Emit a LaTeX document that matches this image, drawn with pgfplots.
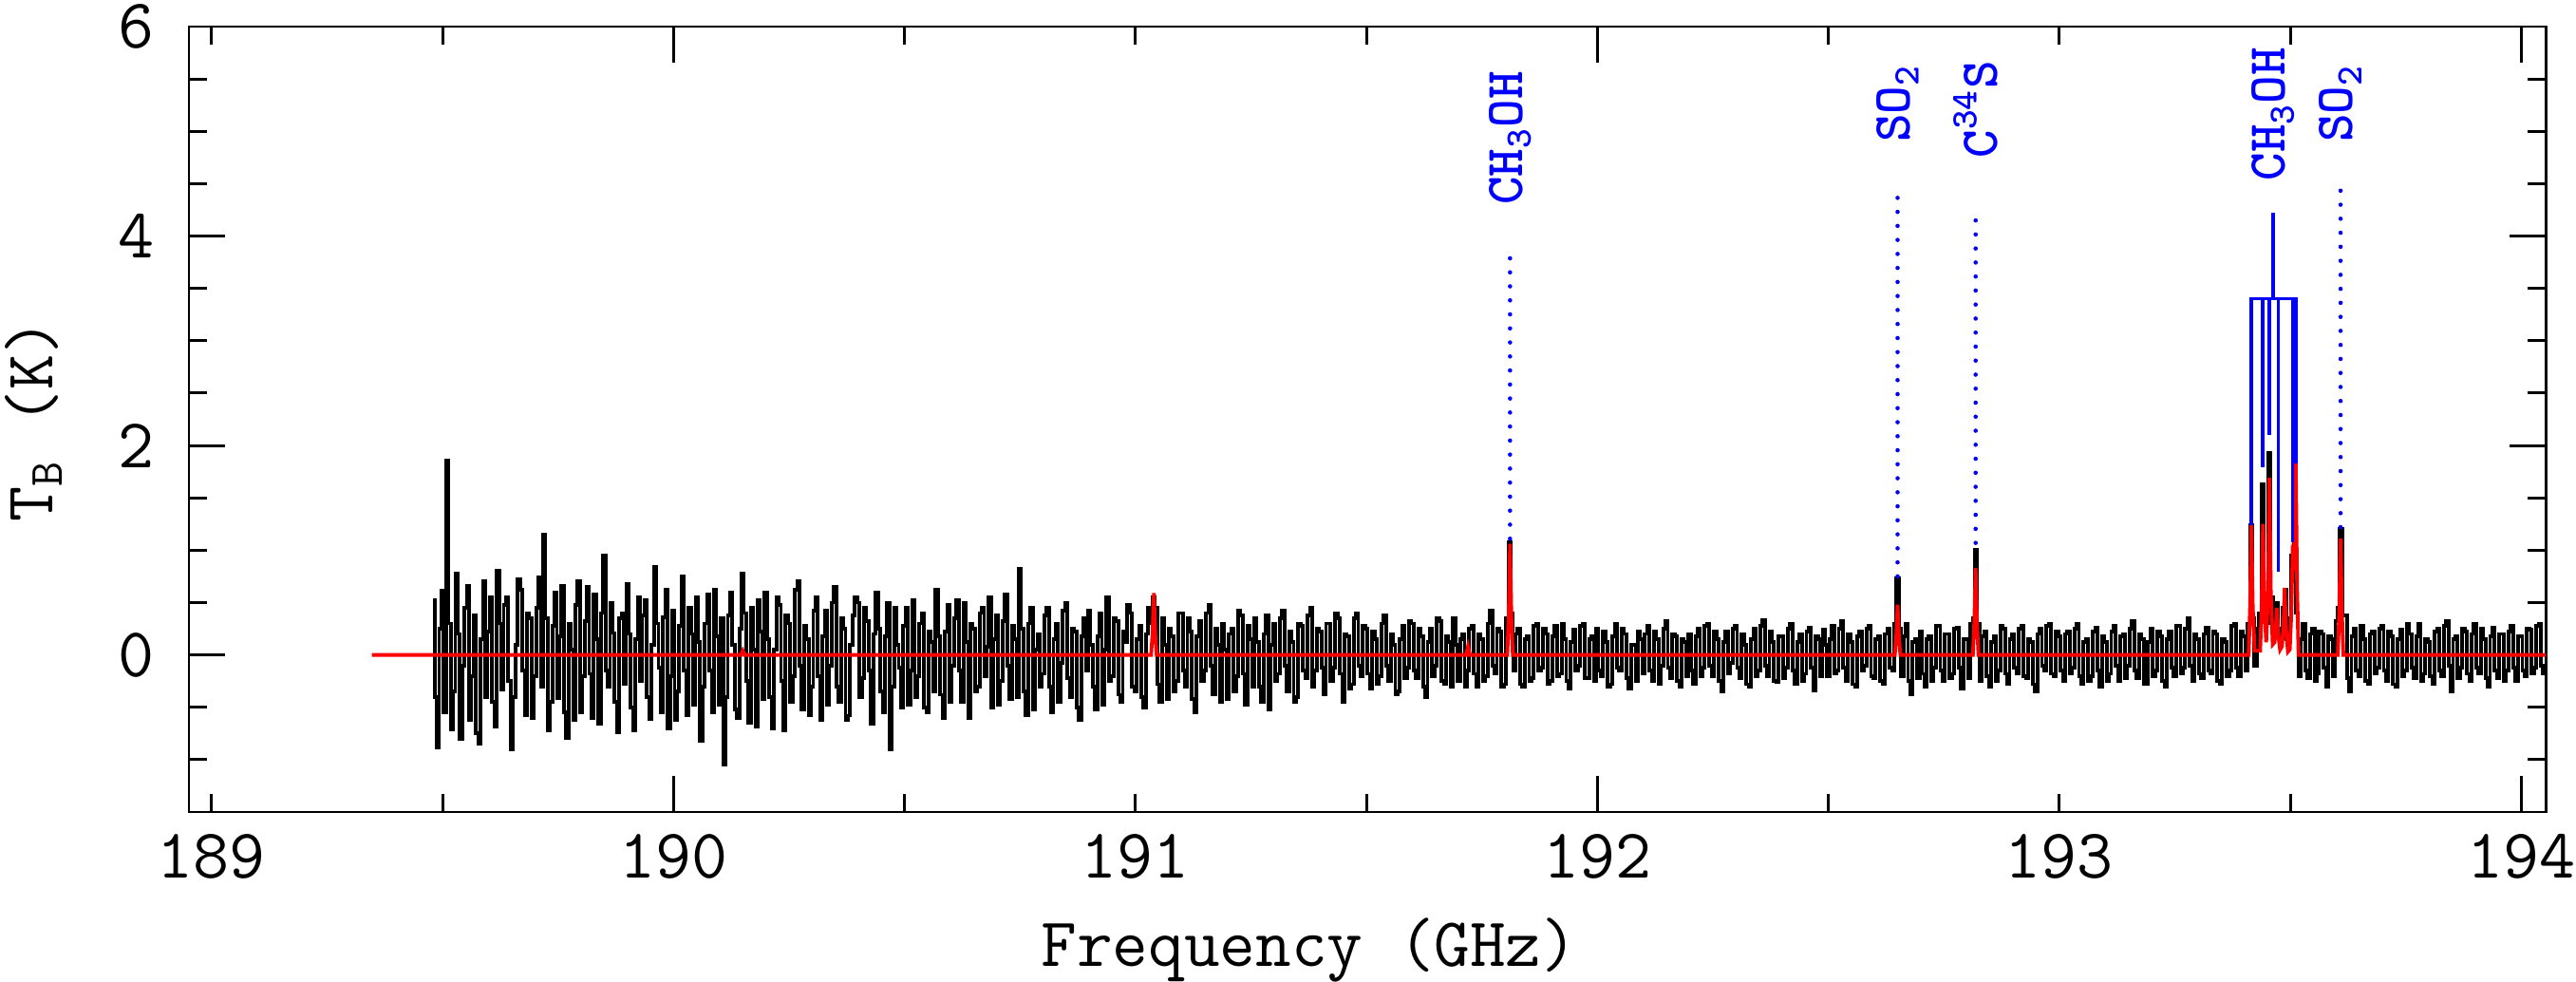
\documentclass[border=0pt]{standalone}
\usepackage{fontspec}
\usepackage{pgfplots}
\pgfplotsset{compat=1.18}
\newcommand{\tfs}[1]{\fontsize{#1}{#1}\selectfont\ttfamily}
\begin{document}
\begin{tikzpicture}
\useasboundingbox (0,0) rectangle (27.13cm,10.33cm);
\begin{axis}[
  scale only axis, width=24.82cm, height=8.27cm,
  at={(1.99cm,1.78cm)}, anchor=south west,
  xmin=188.951, xmax=194.053, ymin=-1.5, ymax=6,
  axis line style={line width=0.85pt},
  tick style={line width=0.85pt, black},
  major tick length=10.8pt, minor tick length=5.4pt,
  xtick={190,192,194}, xticklabels={},
  extra x ticks={189,190,191,192,193,194},
  extra x tick labels={189,190,191,192,193,194},
  extra x tick style={major tick length=5.4pt},
  minor xtick={189.5,190.5,191.5,192.5,193.5},
  ytick={0,2,4,6},
  minor ytick={-1.5,-1,-0.5,0.5,1,1.5,2.5,3,3.5,4.5,5,5.5},
  /pgf/number format/assume math mode=true,
  tick label style={font=\tfs{21}},
  xticklabel style={anchor=north, inner sep=0pt, yshift=-0.23cm},
  yticklabel style={anchor=east, inner sep=0pt, xshift=-0.36cm},
  xlabel={Frequency (GHz)},
  ylabel={T\textsubscript{B} (K)},
  xlabel style={font=\tfs{20.8}, at={(axis description cs:0.4754,-0.196)}, anchor=base, inner sep=0pt},
  ylabel style={font=\tfs{20.5}, at={(axis description cs:-0.058,0.498)}, anchor=base, inner sep=0pt},
]
% observed spectrum
\addplot[black, line width=1.1pt, const plot mark mid] coordinates {
(189.480,0.52) (189.485,-0.40) (189.490,-0.88) (189.495,0.25)
(189.500,0.61) (189.505,-0.55) (189.510,1.86) (189.515,0.30) (189.520,-0.71) (189.525,-0.35) (189.530,0.78) (189.535,0.20) (189.540,-0.80) (189.545,-0.10)
(189.550,0.45) (189.555,0.66) (189.560,-0.62) (189.565,-0.20) (189.570,0.38) (189.575,-0.75) (189.580,-0.85) (189.585,0.15) (189.590,0.70) (189.595,-0.40)
(189.600,0.22) (189.605,0.55) (189.610,-0.45) (189.615,-0.68) (189.620,0.80) (189.625,0.30) (189.630,-0.33) (189.635,0.48) (189.640,0.55) (189.645,-0.25)
(189.650,-0.90) (189.655,-0.40) (189.660,0.10) (189.665,0.72) (189.670,0.62) (189.675,-0.15) (189.680,-0.58) (189.685,0.40) (189.690,0.35) (189.695,-0.60)
(189.700,-0.20) (189.705,0.45) (189.710,0.74) (189.715,-0.30) (189.720,1.15) (189.725,0.35) (189.730,-0.72) (189.735,-0.45) (189.740,0.28) (189.745,0.60)
(189.750,-0.41) (189.755,0.18) (189.760,0.66) (189.765,-0.55) (189.770,-0.79) (189.775,0.30) (189.780,0.05) (189.785,-0.62) (189.790,0.48) (189.795,0.70)
(189.800,-0.55) (189.805,-0.20) (189.810,0.32) (189.815,0.65) (189.820,-0.18) (189.825,-0.60) (189.830,0.58) (189.835,0.15) (189.840,-0.66) (189.845,0.40)
(189.850,0.95) (189.855,-0.15) (189.860,-0.30) (189.865,0.50) (189.870,0.21) (189.875,-0.45) (189.880,-0.74) (189.885,0.35) (189.890,0.40) (189.895,-0.28)
(189.900,0.68) (189.905,0.20) (189.910,-0.50) (189.915,-0.72) (189.920,0.15) (189.925,0.55) (189.930,-0.25) (189.935,0.38) (189.940,0.52) (189.945,-0.40)
(189.950,-0.61) (189.955,0.10) (189.960,0.84) (189.965,0.30) (189.970,-0.12) (189.975,-0.55) (189.980,0.36) (189.985,0.62) (189.990,-0.70) (189.995,-0.20)
(190.000,0.42) (190.005,-0.62) (190.010,-0.35) (190.015,0.28) (190.020,0.75) (190.025,-0.15) (190.030,-0.58) (190.035,0.45) (190.040,0.20) (190.045,-0.48)
(190.050,0.55) (190.055,0.12) (190.060,-0.82) (190.065,-0.30) (190.070,0.30) (190.075,0.58) (190.080,-0.15) (190.085,-0.55) (190.090,0.62) (190.095,0.18)
(190.100,-0.48) (190.105,0.35) (190.110,-1.05) (190.115,-0.40) (190.120,0.38) (190.125,0.60) (190.130,0.10) (190.135,-0.52) (190.140,-0.60) (190.145,0.25)
(190.150,0.78) (190.155,0.40) (190.160,-0.25) (190.165,-0.65) (190.170,0.45) (190.175,0.05) (190.180,-0.68) (190.185,0.52) (190.190,0.22) (190.195,-0.42)
(190.200,0.60) (190.205,0.15) (190.210,-0.40) (190.215,-0.70) (190.220,0.05) (190.225,0.55) (190.230,0.48) (190.235,-0.25) (190.240,-0.72) (190.245,0.38)
(190.250,0.30) (190.255,-0.45) (190.260,-0.20) (190.265,0.62) (190.270,0.70) (190.275,-0.10) (190.280,-0.52) (190.285,0.28) (190.290,0.15) (190.295,-0.58)
(190.300,-0.30) (190.305,0.42) (190.310,0.55) (190.315,-0.20) (190.320,-0.62) (190.325,0.18) (190.330,0.42) (190.335,-0.48) (190.340,-0.10) (190.345,0.50)
(190.350,0.65) (190.355,-0.30) (190.360,-0.45) (190.365,0.35) (190.370,0.25) (190.375,-0.62) (190.380,-0.58) (190.385,0.10) (190.390,0.38) (190.395,0.55)
(190.400,0.50) (190.405,-0.40) (190.410,-0.22) (190.415,0.45) (190.420,0.32) (190.425,-0.15) (190.430,-0.66) (190.435,0.20) (190.440,0.60) (190.445,0.25)
(190.450,-0.35) (190.455,-0.55) (190.460,0.18) (190.465,0.50) (190.470,-0.90) (190.475,-0.30) (190.480,0.45) (190.485,0.10) (190.490,-0.12) (190.495,-0.50)
(190.500,0.28) (190.505,0.45) (190.510,-0.48) (190.515,-0.15) (190.520,0.52) (190.525,-0.40) (190.530,-0.20) (190.535,0.30) (190.540,0.40) (190.545,-0.50)
(190.550,-0.55) (190.555,0.22) (190.560,0.12) (190.565,-0.35) (190.570,0.62) (190.575,0.18) (190.580,-0.38) (190.585,-0.60) (190.590,0.22) (190.595,0.48)
(190.600,-0.45) (190.605,-0.10) (190.610,0.35) (190.615,0.52) (190.620,-0.15) (190.625,-0.45) (190.630,0.50) (190.635,0.12) (190.640,-0.60) (190.645,0.30)
(190.650,0.25) (190.655,-0.35) (190.660,-0.30) (190.665,0.40) (190.670,0.45) (190.675,-0.20) (190.680,0.08) (190.685,0.55) (190.690,-0.50) (190.695,0.15)
(190.700,0.38) (190.705,-0.48) (190.710,-0.25) (190.715,0.32) (190.720,0.58) (190.725,-0.10) (190.730,-0.42) (190.735,0.28) (190.740,0.15) (190.745,-0.40)
(190.750,0.82) (190.755,0.25) (190.760,-0.35) (190.765,-0.58) (190.770,0.30) (190.775,0.45) (190.780,-0.52) (190.785,0.05) (190.790,0.20) (190.795,-0.30)
(190.800,-0.18) (190.805,0.38) (190.810,0.45) (190.815,-0.30) (190.820,-0.55) (190.825,0.15) (190.830,0.30) (190.835,-0.45) (190.840,-0.08) (190.845,0.42)
(190.850,0.50) (190.855,-0.22) (190.860,-0.40) (190.865,0.25) (190.870,0.22) (190.875,-0.50) (190.880,-0.62) (190.885,0.18) (190.890,0.35) (190.895,-0.15)
(190.900,0.42) (190.905,0.10) (190.910,-0.30) (190.915,-0.52) (190.920,0.18) (190.925,0.40) (190.930,-0.48) (190.935,0.05) (190.940,0.55) (190.945,-0.25)
(190.950,-0.20) (190.955,0.35) (190.960,0.32) (190.965,-0.38) (190.970,-0.45) (190.975,0.22) (190.980,0.12) (190.985,0.48) (190.990,0.40) (190.995,-0.30)
(191.000,-0.35) (191.005,0.15) (191.010,0.28) (191.015,-0.40) (191.020,-0.50) (191.025,0.20) (191.030,0.45) (191.035,0.30) (191.040,0.55) (191.045,0.45)
(191.050,-0.28) (191.055,-0.45) (191.060,0.35) (191.065,0.10) (191.070,-0.42) (191.075,0.25) (191.080,0.18) (191.085,-0.35) (191.090,-0.25) (191.095,0.40)
(191.100,0.40) (191.105,-0.15) (191.110,-0.30) (191.115,0.35) (191.120,0.22) (191.125,-0.42) (191.130,-0.55) (191.135,0.18) (191.140,0.32) (191.145,-0.25)
(191.150,-0.15) (191.155,0.40) (191.160,0.48) (191.165,-0.10) (191.170,-0.38) (191.175,0.25) (191.180,0.10) (191.185,-0.45) (191.190,0.30) (191.195,0.05)
(191.200,-0.42) (191.205,0.20) (191.210,0.25) (191.215,-0.35) (191.220,-0.20) (191.225,0.42) (191.230,0.38) (191.235,-0.18) (191.240,-0.48) (191.245,0.28)
(191.250,0.15) (191.255,-0.30) (191.260,0.35) (191.265,0.12) (191.270,-0.30) (191.275,-0.45) (191.280,0.20) (191.285,0.38) (191.290,-0.52) (191.295,0.10)
(191.300,0.30) (191.305,-0.25) (191.310,-0.18) (191.315,0.35) (191.320,0.42) (191.325,-0.10) (191.330,-0.35) (191.335,0.22) (191.340,0.12) (191.345,-0.45)
(191.350,-0.40) (191.355,0.30) (191.360,0.28) (191.365,-0.15) (191.370,-0.22) (191.375,0.38) (191.380,0.45) (191.385,-0.30) (191.390,-0.15) (191.395,0.25)
(191.400,0.22) (191.405,-0.12) (191.410,-0.38) (191.415,0.30) (191.420,0.30) (191.425,-0.25) (191.430,-0.12) (191.435,0.40) (191.440,0.35) (191.445,-0.18)
(191.450,-0.45) (191.455,0.20) (191.460,0.18) (191.465,-0.32) (191.470,-0.28) (191.475,0.35) (191.480,0.40) (191.485,-0.10) (191.490,-0.20) (191.495,0.28)
(191.500,0.25) (191.505,-0.18) (191.510,-0.32) (191.515,0.22) (191.520,0.15) (191.525,-0.28) (191.530,-0.20) (191.535,0.30) (191.540,0.38) (191.545,-0.10)
(191.550,-0.25) (191.555,0.20) (191.560,0.10) (191.565,-0.38) (191.570,-0.35) (191.575,0.15) (191.580,0.28) (191.585,-0.22) (191.590,-0.12) (191.595,0.32)
(191.600,0.30) (191.605,-0.15) (191.610,-0.22) (191.615,0.25) (191.620,0.18) (191.625,-0.30) (191.630,-0.40) (191.635,0.12) (191.640,0.25) (191.645,-0.20)
(191.650,-0.10) (191.655,0.35) (191.660,0.32) (191.665,-0.25) (191.670,-0.28) (191.675,0.18) (191.680,0.12) (191.685,-0.30) (191.690,0.35) (191.695,0.10)
(191.700,-0.25) (191.705,0.15) (191.710,0.20) (191.715,-0.30) (191.720,-0.15) (191.725,0.25) (191.730,0.28) (191.735,-0.18) (191.740,-0.30) (191.745,0.20)
(191.750,0.15) (191.755,-0.25) (191.760,-0.20) (191.765,0.30) (191.770,0.42) (191.775,-0.10) (191.780,-0.18) (191.785,0.25) (191.790,0.22) (191.795,-0.30)
(191.800,-0.28) (191.805,0.35) (191.810,1.08) (191.815,0.40) (191.820,-0.15) (191.825,0.20) (191.830,0.25) (191.835,-0.28) (191.840,-0.30) (191.845,0.15)
(191.850,0.18) (191.855,-0.25) (191.860,-0.22) (191.865,0.28) (191.870,0.30) (191.875,-0.15) (191.880,-0.12) (191.885,0.25) (191.890,0.20) (191.895,-0.28)
(191.900,-0.25) (191.905,0.18) (191.910,0.28) (191.915,-0.20) (191.920,-0.18) (191.925,0.30) (191.930,0.15) (191.935,-0.25) (191.940,-0.32) (191.945,0.12)
(191.950,0.24) (191.955,-0.15) (191.960,-0.10) (191.965,0.28) (191.970,0.30) (191.975,-0.22) (191.980,-0.22) (191.985,0.15) (191.990,0.18) (191.995,-0.25)
(192.000,0.25) (192.005,-0.15) (192.010,-0.20) (192.015,0.22) (192.020,0.12) (192.025,-0.30) (192.030,-0.28) (192.035,0.18) (192.040,0.30) (192.045,-0.12)
(192.050,-0.15) (192.055,0.25) (192.060,0.20) (192.065,-0.22) (192.070,-0.32) (192.075,0.10) (192.080,0.10) (192.085,-0.25) (192.090,0.22) (192.095,0.15)
(192.100,-0.18) (192.105,0.20) (192.110,0.28) (192.115,-0.15) (192.120,-0.25) (192.125,0.22) (192.130,0.15) (192.135,-0.28) (192.140,-0.10) (192.145,0.25)
(192.150,0.32) (192.155,-0.12) (192.160,-0.22) (192.165,0.20) (192.170,0.18) (192.175,-0.25) (192.180,-0.30) (192.185,0.15) (192.190,0.12) (192.195,-0.20)
(192.200,0.20) (192.205,-0.15) (192.210,-0.28) (192.215,0.18) (192.220,0.25) (192.225,-0.20) (192.230,-0.12) (192.235,0.28) (192.240,0.30) (192.245,-0.10)
(192.250,-0.20) (192.255,0.22) (192.260,0.15) (192.265,-0.25) (192.270,-0.35) (192.275,0.12) (192.280,0.22) (192.285,-0.18) (192.290,-0.08) (192.295,0.25)
(192.300,0.28) (192.305,-0.12) (192.310,-0.22) (192.315,0.20) (192.320,0.10) (192.325,-0.28) (192.330,-0.30) (192.335,0.15) (192.340,0.25) (192.345,-0.20)
(192.350,-0.15) (192.355,0.28) (192.360,0.33) (192.365,-0.10) (192.370,-0.20) (192.375,0.22) (192.380,0.12) (192.385,-0.25) (192.390,-0.26) (192.395,0.18)
(192.400,0.18) (192.405,-0.22) (192.410,-0.12) (192.415,0.25) (192.420,0.30) (192.425,-0.15) (192.430,-0.28) (192.435,0.12) (192.440,0.20) (192.445,-0.25)
(192.450,-0.18) (192.455,0.22) (192.460,0.26) (192.465,-0.12) (192.470,-0.34) (192.475,0.18) (192.480,0.15) (192.485,-0.20) (192.490,0.24) (192.495,0.10)
(192.500,-0.20) (192.505,0.15) (192.510,0.28) (192.515,-0.18) (192.520,-0.15) (192.525,0.25) (192.530,0.32) (192.535,-0.12) (192.540,-0.25) (192.545,0.20)
(192.550,0.12) (192.555,-0.28) (192.560,-0.30) (192.565,0.18) (192.570,0.22) (192.575,-0.15) (192.580,-0.10) (192.585,0.25) (192.590,0.28) (192.595,-0.20)
(192.600,-0.22) (192.605,0.15) (192.610,0.18) (192.615,-0.25) (192.620,-0.28) (192.625,0.20) (192.630,0.25) (192.635,-0.12) (192.640,-0.15) (192.645,0.30)
(192.650,0.73) (192.655,0.25) (192.660,-0.20) (192.665,0.18) (192.670,0.30) (192.675,-0.25) (192.680,-0.38) (192.685,0.12) (192.690,0.15) (192.695,-0.22)
(192.700,0.22) (192.705,-0.18) (192.710,-0.30) (192.715,0.15) (192.720,0.18) (192.725,-0.25) (192.730,-0.12) (192.735,0.28) (192.740,0.28) (192.745,-0.15)
(192.750,-0.25) (192.755,0.20) (192.760,0.20) (192.765,-0.22) (192.770,-0.18) (192.775,0.25) (192.780,0.26) (192.785,-0.12) (192.790,-0.32) (192.795,0.15)
(192.800,0.15) (192.805,-0.22) (192.810,0.30) (192.815,0.35) (192.820,1.00) (192.825,0.30) (192.830,-0.25) (192.835,0.18) (192.840,0.22) (192.845,-0.20)
(192.850,-0.30) (192.855,0.12) (192.860,0.18) (192.865,-0.25) (192.870,-0.15) (192.875,0.28) (192.880,0.25) (192.885,-0.18) (192.890,-0.28) (192.895,0.15)
(192.900,0.20) (192.905,-0.12) (192.910,-0.18) (192.915,0.25) (192.920,0.28) (192.925,-0.20) (192.930,-0.22) (192.935,0.15) (192.940,0.12) (192.945,-0.28)
(192.950,-0.35) (192.955,0.20) (192.960,0.25) (192.965,-0.10) (192.970,-0.15) (192.975,0.28) (192.980,0.30) (192.985,-0.18) (192.990,-0.20) (192.995,0.22)
(193.000,0.18) (193.005,-0.15) (193.010,-0.25) (193.015,0.20) (193.020,0.22) (193.025,-0.18) (193.030,-0.12) (193.035,0.25) (193.040,0.30) (193.045,-0.20)
(193.050,-0.28) (193.055,0.12) (193.060,0.15) (193.065,-0.25) (193.070,-0.20) (193.075,0.22) (193.080,0.26) (193.085,-0.15) (193.090,-0.30) (193.095,0.18)
(193.100,0.12) (193.105,-0.25) (193.110,-0.18) (193.115,0.22) (193.120,0.28) (193.125,-0.10) (193.130,-0.25) (193.135,0.18) (193.140,0.20) (193.145,-0.22)
(193.150,-0.10) (193.155,0.25) (193.160,0.32) (193.165,-0.15) (193.170,-0.22) (193.175,0.20) (193.180,0.15) (193.185,-0.28) (193.190,-0.28) (193.195,0.12)
(193.200,0.25) (193.205,-0.20) (193.210,-0.15) (193.215,0.22) (193.220,0.18) (193.225,-0.25) (193.230,-0.30) (193.235,0.15) (193.240,0.22) (193.245,-0.12)
(193.250,-0.20) (193.255,0.28) (193.260,0.28) (193.265,-0.18) (193.270,-0.12) (193.275,0.25) (193.280,0.35) (193.285,-0.10) (193.290,-0.25) (193.295,0.20)
(193.300,0.15) (193.305,-0.18) (193.310,-0.22) (193.315,0.20) (193.320,0.26) (193.325,-0.15) (193.330,-0.18) (193.335,0.22) (193.340,0.20) (193.345,-0.25)
(193.350,-0.28) (193.355,0.15) (193.360,0.12) (193.365,-0.20) (193.370,-0.15) (193.375,0.28) (193.380,0.30) (193.385,-0.12) (193.390,-0.20) (193.395,0.22)
(193.400,0.18) (193.405,-0.15) (193.410,0.30) (193.415,1.24) (193.420,0.35) (193.425,-0.10) (193.430,0.25) (193.435,0.40) (193.440,1.63) (193.445,0.50)
(193.450,0.30) (193.455,1.93) (193.460,0.55) (193.465,0.20) (193.470,0.50) (193.475,0.25) (193.480,0.10) (193.485,0.45) (193.490,0.62) (193.495,0.15)
(193.500,0.35) (193.505,0.95) (193.510,1.80) (193.515,0.40) (193.520,-0.20) (193.525,0.15) (193.530,0.30) (193.535,-0.15) (193.540,-0.22) (193.545,0.20)
(193.550,0.25) (193.555,-0.25) (193.560,-0.18) (193.565,0.22) (193.570,0.20) (193.575,-0.12) (193.580,-0.30) (193.585,0.18) (193.590,0.15) (193.595,-0.20)
(193.600,0.32) (193.605,0.45) (193.610,1.20) (193.615,0.38) (193.620,0.38) (193.625,-0.22) (193.630,-0.35) (193.635,0.18) (193.640,0.25) (193.645,-0.15)
(193.650,-0.20) (193.655,0.28) (193.660,0.15) (193.665,-0.25) (193.670,-0.28) (193.675,0.20) (193.680,0.22) (193.685,-0.18) (193.690,-0.12) (193.695,0.25)
(193.700,0.28) (193.705,-0.15) (193.710,-0.25) (193.715,0.22) (193.720,0.18) (193.725,-0.28) (193.730,-0.30) (193.735,0.15) (193.740,0.24) (193.745,-0.20)
(193.750,-0.15) (193.755,0.30) (193.760,0.20) (193.765,-0.12) (193.770,-0.22) (193.775,0.18) (193.780,0.30) (193.785,-0.25) (193.790,-0.18) (193.795,0.15)
(193.800,0.12) (193.805,-0.20) (193.810,-0.28) (193.815,0.22) (193.820,0.25) (193.825,-0.15) (193.830,-0.20) (193.835,0.28) (193.840,0.32) (193.845,-0.10)
(193.850,-0.35) (193.855,0.15) (193.860,0.18) (193.865,-0.22) (193.870,-0.12) (193.875,0.25) (193.880,0.22) (193.885,-0.18) (193.890,-0.25) (193.895,0.20)
(193.900,0.30) (193.905,-0.12) (193.910,-0.18) (193.915,0.25) (193.920,0.15) (193.925,-0.22) (193.930,-0.30) (193.935,0.18) (193.940,0.26) (193.945,-0.15)
(193.950,-0.22) (193.955,0.20) (193.960,0.20) (193.965,-0.25) (193.970,-0.15) (193.975,0.22) (193.980,0.28) (193.985,-0.12) (193.990,-0.25) (193.995,0.18)
(194.000,0.18) (194.005,-0.15) (194.010,-0.20) (194.015,0.25) (194.020,0.24) (194.025,-0.18) (194.030,-0.12) (194.035,0.28) (194.040,0.30) (194.045,-0.10)
(194.050,-0.18)
};
% model
\addplot[red, line width=1.1pt] coordinates {
(189.347,0) (190.146,0) (190.150,0.04) (190.154,0)
(191.034,0) (191.037,0.2) (191.040,0.59) (191.043,0.2) (191.046,0)
(191.716,0) (191.720,0.08) (191.724,0)
(191.805,0) (191.808,0.35) (191.811,1.06) (191.814,0.35) (191.817,0)
(192.644,0) (192.647,0.17) (192.650,0.48) (192.653,0.17) (192.656,0)
(192.813,0) (192.816,0.3) (192.819,0.83) (192.822,0.3) (192.825,0)
(193.410,0) (193.413,0.45) (193.416,1.24) (193.419,0.45) (193.423,0.04)
(193.435,0.04) (193.438,0.45) (193.441,1.25) (193.444,0.45) (193.448,0.12)
(193.452,0.6) (193.455,1.69) (193.458,0.6) (193.462,0.1) (193.466,0.12)
(193.468,0.2) (193.471,0.45) (193.474,0.2) (193.478,0.05) (193.482,0.08)
(193.485,0.25) (193.488,0.64) (193.491,0.25) (193.495,0.03) (193.499,0.05)
(193.502,0.35) (193.505,0.95) (193.508,0.9) (193.512,1.83) (193.515,0.6) (193.518,0)
(193.603,0) (193.606,0.4) (193.609,1.11) (193.612,0.4) (193.615,0)
(194.053,0)
};
% line identifications
\pgfplotsset{dotline/.style={blue, line width=1.3pt, dash pattern=on 0pt off 4.2pt, line cap=round}}
\addplot[dotline] coordinates {(191.811,1.11) (191.811,3.81)};
\addplot[dotline] coordinates {(192.650,0.75) (192.650,4.46)};
\addplot[dotline] coordinates {(192.819,1.07) (192.819,4.22)};
\addplot[dotline] coordinates {(193.609,1.22) (193.609,4.46)};
\pgfplotsset{bl/.style={blue, line width=1.0pt}}
\addplot[bl] coordinates {(193.463,3.40) (193.463,4.22)};
\addplot[bl] coordinates {(193.416,1.24) (193.416,3.40) (193.512,3.40) (193.512,1.83)};
\addplot[bl] coordinates {(193.440,3.40) (193.440,1.79)};
\addplot[bl] coordinates {(193.455,3.40) (193.455,2.10)};
\addplot[bl] coordinates {(193.474,3.40) (193.474,0.79)};
\addplot[bl] coordinates {(193.505,3.40) (193.505,1.08)};
\tikzset{lab/.style={rotate=90, anchor=west, inner sep=0pt, text=blue, font=\tfs{16}\bfseries}}
\node[lab] at (axis cs:191.811,4.29) {CH\textsubscript{3}OH};
\node[lab] at (axis cs:192.650,4.89) {SO\textsubscript{2}};
\node[lab] at (axis cs:192.819,4.74) {C\textsuperscript{34}S};
\node[lab] at (axis cs:193.463,4.52) {CH\textsubscript{3}OH};
\node[lab] at (axis cs:193.609,4.89) {SO\textsubscript{2}};
\end{axis}
\end{tikzpicture}
\end{document}
